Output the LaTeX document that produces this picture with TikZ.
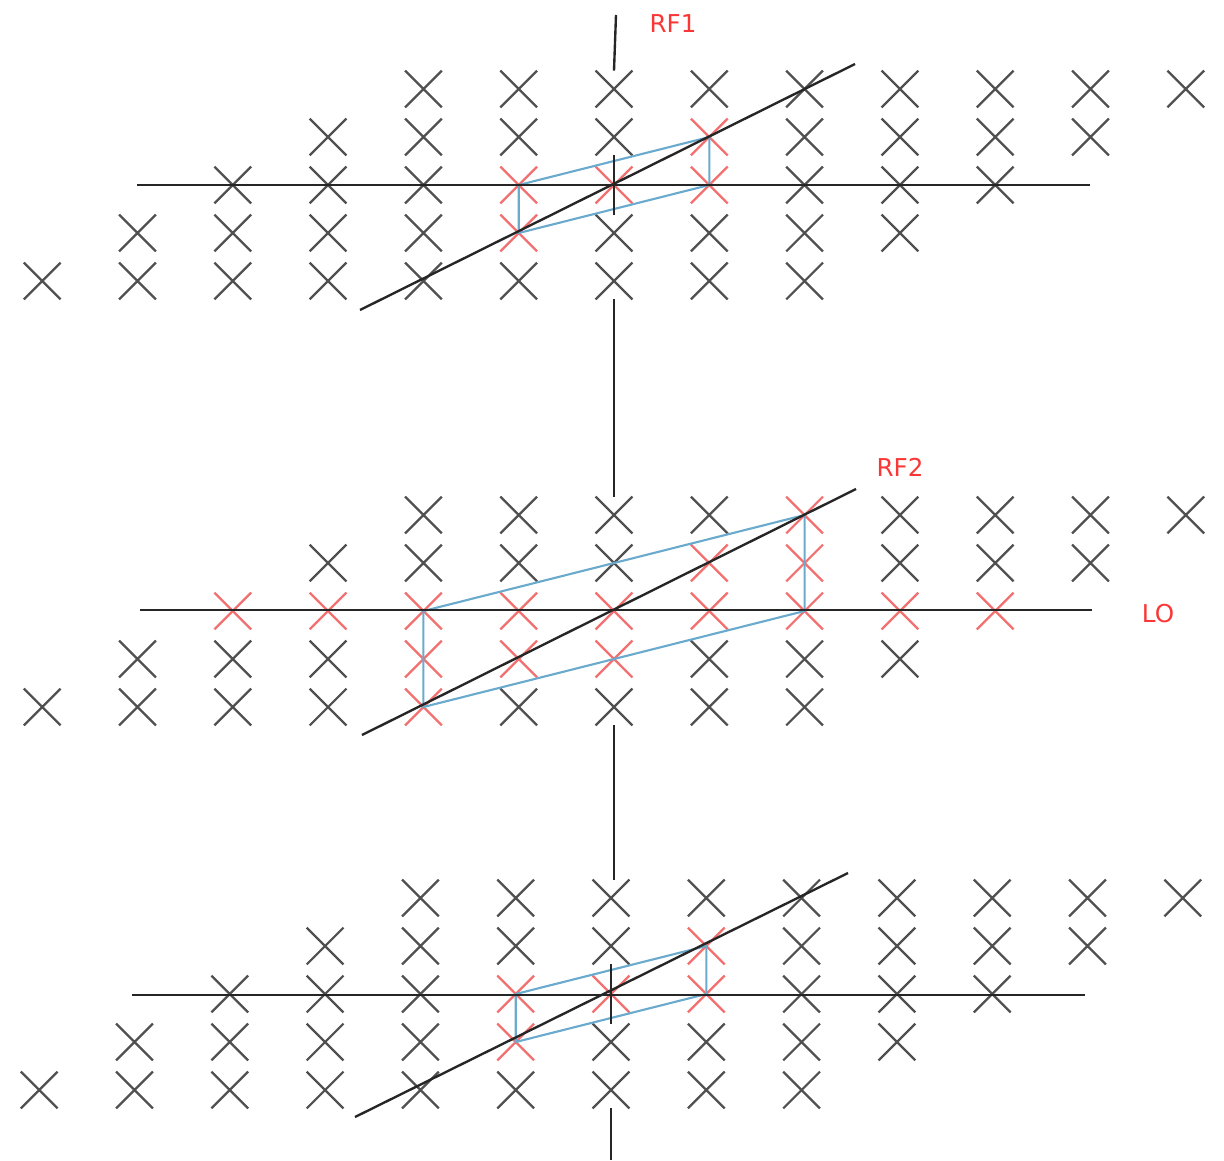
\documentclass[tikz,border=0pt]{standalone}
\usepackage{fontspec}
\setmainfont{DejaVu Sans}
\usepackage{tikz}
\usetikzlibrary{shapes.misc}

\definecolor{markgray}{RGB}{80,80,80}
\definecolor{markred}{RGB}{242,112,112}
\definecolor{parablue}{RGB}{105,170,205}
\definecolor{labelred}{RGB}{250,55,55}

\tikzset{
  grayx/.style={cross out,draw=markgray,line width=1.3pt,minimum size=0.69cm,inner sep=0pt},
  redx/.style={grayx,draw=markred},
  axisline/.style={draw=black!85,line width=1.35pt},
  paraline/.style={draw=parablue,line width=1.2pt},
  freqlabel/.style={text=labelred,font=\fontsize{14}{16}\selectfont,inner sep=0pt}
}

\begin{document}
\begin{tikzpicture}[x=0.02cm,y=-0.02cm]

\useasboundingbox (0,0) rectangle (1224,1160);

% Red lattice points
\foreach \p/\row/\col in {1/2/5,1/2/6,1/2/7,1/1/7,1/3/5,
    2/2/2,2/2/3,2/2/4,2/2/5,2/2/6,2/2/7,2/2/8,2/2/9,2/2/10,
    2/1/7,2/1/8,2/0/8,2/3/4,2/3/5,2/3/6,2/4/4,
    3/2/5,3/2/6,3/2/7,3/1/7,3/3/5}
  {\expandafter\gdef\csname red\p-\row-\col\endcsname{}}

% Lattice of the three panels
\foreach \p/\cx/\cy in {1/614/185,2/614/611,3/611/994} {
  \foreach \row in {0,...,4} {
    \pgfmathtruncatemacro\first{4-\row}
    \pgfmathtruncatemacro\last{12-\row}
    \foreach \col in {\first,...,\last} {
      \ifcsname red\p-\row-\col\endcsname\def\mstyle{redx}\else\def\mstyle{grayx}\fi
      \node[\mstyle] (m\p-\row-\col) at ({\cx+(\col-6)*95.3},{\cy+(\row-2)*48}) {};
    }
  }
}

% Panel 1
\coordinate (h1w) at (137,185);
\coordinate (h1e) at (1090,185);
\coordinate (s1a) at (360,310);
\coordinate (s1b) at (855,64);
\coordinate (rf1top) at (616,15);
\draw[paraline] (m1-2-5.center) -- (m1-1-7.center) -- (m1-2-7.center) -- (m1-3-5.center) -- cycle;
\draw[axisline] (h1w) -- (h1e);
\draw[axisline] (s1a) -- (s1b);
\draw[axisline] (rf1top) -- (m1-0-6.north);
\draw[axisline] (m1-1-6.south) -- (m1-3-6.north);
\node[freqlabel] (rf1) at (673,24) {RF1};

% Panel 2
\coordinate (h2w) at (140,610);
\coordinate (h2e) at (1092,610);
\coordinate (s2a) at (362,735);
\coordinate (s2b) at (856,489);
\draw[paraline] (m2-2-4.center) -- (m2-0-8.center) -- (m2-2-8.center) -- (m2-4-4.center) -- cycle;
\draw[axisline] (h2w) -- (h2e);
\draw[axisline] (s2a) -- (s2b);
\draw[axisline] (m1-4-6.south) -- (m2-0-6.north);
\node[freqlabel] (rf2) at (900,467) {RF2};
\node[freqlabel] (lo) at (1158,614) {LO};

% Panel 3
\coordinate (h3w) at (132,995);
\coordinate (h3e) at (1085,995);
\coordinate (s3a) at (355,1117);
\coordinate (s3b) at (848,873);
\coordinate (bottom) at (611,1160);
\draw[paraline] (m3-2-5.center) -- (m3-1-7.center) -- (m3-2-7.center) -- (m3-3-5.center) -- cycle;
\draw[axisline] (h3w) -- (h3e);
\draw[axisline] (s3a) -- (s3b);
\draw[axisline] (m2-4-6.south) -- (m2-4-6.south |- m3-0-6.north);
\draw[axisline] (m3-1-6.south) -- (m3-3-6.north);
\draw[axisline] (m3-4-6.south) -- (bottom);

\end{tikzpicture}
\end{document}
